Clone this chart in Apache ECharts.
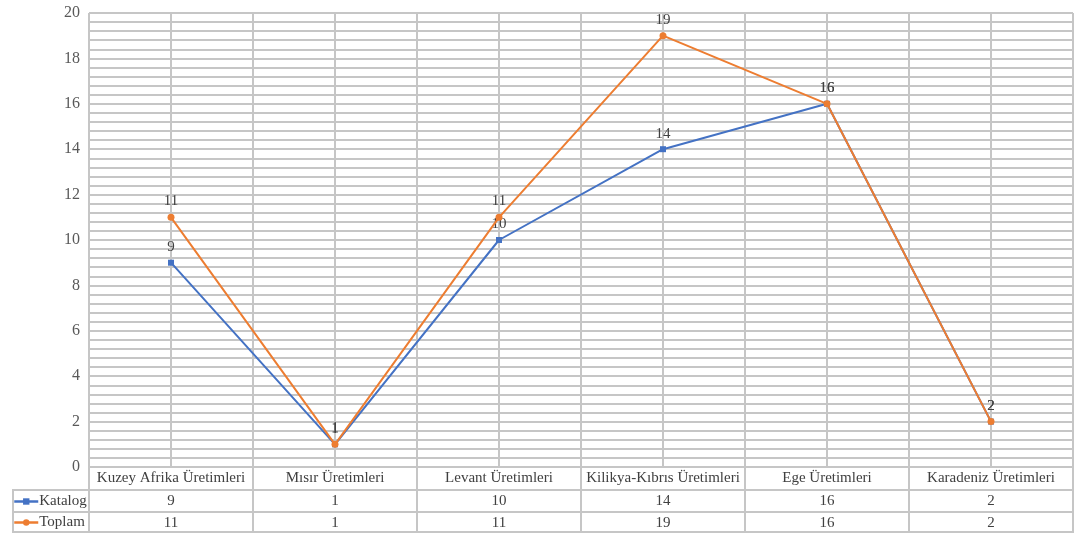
<!DOCTYPE html>
<html>
<head>
<meta charset="utf-8">
<script src="https://cdn.jsdelivr.net/npm/echarts@6/dist/echarts.min.js"></script>
<title>Katalog / Toplam</title>
<style>html,body{margin:0;padding:0;background:#fff;}</style>
</head>
<body>
<div id="container" style="width:1076px;height:533px;"></div>
<script>
// veriler
var categories = ['Kuzey Afrika Üretimleri', 'Mısır Üretimleri', 'Levant Üretimleri',
    'Kilikya-Kıbrıs Üretimleri', 'Ege Üretimleri', 'Karadeniz Üretimleri'];
var katalog = [9, 1, 10, 14, 16, 2];
var toplam = [11, 1, 11, 19, 16, 2];
var yTicks = { min: 0, max: 20, step: 2 };

var chart = echarts.init(document.getElementById('container'));

var gridColor = '#c6c6c6';
var textColor = '#404040';
var font = 'Liberation Serif';

var lbl = {
    show: true, position: 'top', distance: 5,
    color: textColor, fontFamily: font, fontSize: 15
};

// tablo satırları için ortak eksen ayarı
function tableAxis(values, offset) {
    return {
        type: 'category', gridIndex: 0, position: 'bottom', offset: offset,
        data: values.map(String),
        axisLine: { show: true, lineStyle: { color: gridColor, width: 2 } },
        axisTick: { show: false },
        axisLabel: { margin: 4, color: textColor, fontFamily: font, fontSize: 15, interval: 0 },
        splitLine: { show: false }
    };
}

var option = {
    animation: false,
    grid: { left: 89, right: 3, top: 13, bottom: 66, outerBoundsMode: 'none', containLabel: false },
    legend: {
        orient: 'vertical', left: 13, top: 491, itemGap: 0, padding: 0,
        itemWidth: 24, itemHeight: 8,
        lineStyle: { width: 2.5 },
        textStyle: { color: textColor, fontFamily: font, fontSize: 15, lineHeight: 21, padding: [0, 0, 0, -4] },
        data: ['Katalog', 'Toplam']
    },
    xAxis: [{
        type: 'category', data: categories,
        axisLine: { show: true, lineStyle: { color: gridColor, width: 2 } },
        axisTick: { show: true, length: 66, lineStyle: { color: gridColor, width: 2 } },
        axisLabel: { margin: 4, color: textColor, fontFamily: font, fontSize: 15, interval: 0 },
        splitLine: { show: false }
    }, {
        // yarım kategori dikey ızgara çizgileri
        type: 'value', min: 0, max: categories.length * 2, interval: 1,
        position: 'top', axisLine: { show: false }, axisTick: { show: false },
        axisLabel: { show: false },
        splitLine: { show: true, lineStyle: { color: gridColor, width: 2 } }
    },
    tableAxis(katalog, 23),
    tableAxis(toplam, 45)
    ],
    yAxis: {
        type: 'value', min: yTicks.min, max: yTicks.max, interval: yTicks.step,
        axisLine: { show: false }, axisTick: { show: false },
        axisLabel: { margin: 9, color: '#595959', fontFamily: font, fontSize: 16 },
        splitLine: { show: true, lineStyle: { color: gridColor, width: 2 } },
        minorTick: { show: false, splitNumber: 5 },
        minorSplitLine: { show: true, lineStyle: { color: gridColor, width: 2 } }
    },
    graphic: [
        // sol lejant sütununun ve alt kenarın çizgileri
        { type: 'line', shape: { x1: 13, y1: 490, x2: 89, y2: 490 }, style: { stroke: gridColor, lineWidth: 2 } },
        { type: 'line', shape: { x1: 13, y1: 512, x2: 89, y2: 512 }, style: { stroke: gridColor, lineWidth: 2 } },
        { type: 'line', shape: { x1: 13, y1: 532, x2: 1074, y2: 532 }, style: { stroke: gridColor, lineWidth: 2 } },
        { type: 'line', shape: { x1: 13, y1: 489, x2: 13, y2: 533 }, style: { stroke: gridColor, lineWidth: 2 } }
    ],
    series: [{
        name: 'Katalog', type: 'line', data: katalog,
        symbol: 'rect', symbolSize: 6,
        itemStyle: { color: '#4472C4' },
        lineStyle: { color: '#4472C4', width: 2 },
        label: lbl, z: 3
    }, {
        name: 'Toplam', type: 'line', data: toplam,
        symbol: 'circle', symbolSize: 7,
        itemStyle: { color: '#ED7D31' },
        lineStyle: { color: '#ED7D31', width: 2 },
        label: lbl, z: 4
    }]
};

chart.setOption(option);
</script>
</body>
</html>
